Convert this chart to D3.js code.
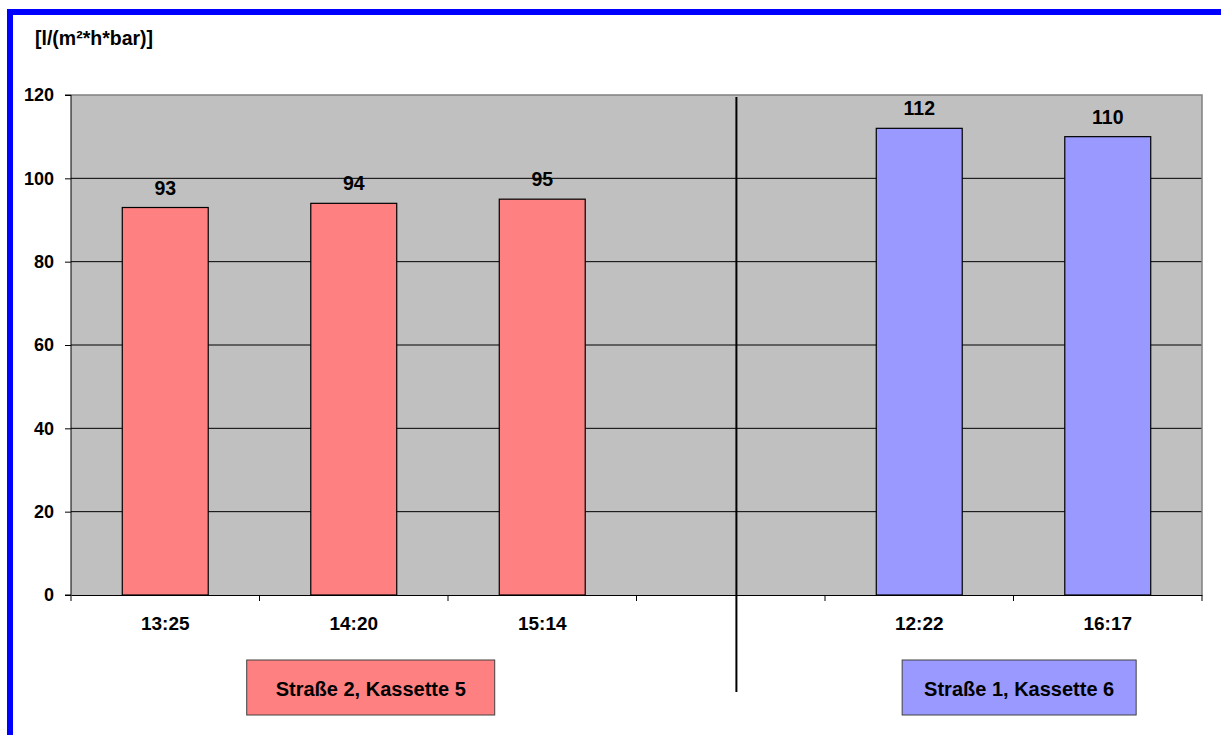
<!DOCTYPE html>
<html>
<head>
<meta charset="utf-8">
<script src="https://cdn.jsdelivr.net/npm/d3@7"></script>
<style>
  body { margin: 0; background: #fff; }
  text { font-family: "Liberation Sans", Arial, sans-serif; font-weight: bold; fill: #000; }
</style>
</head>
<body>
<div id="chart"></div>
<script>
var categories = ["13:25", "14:20", "15:14", "", "12:22", "16:17"];
var series1 = [93, 94, 95, null, null, null];     // Straße 2, Kassette 5
var series2 = [null, null, null, null, 112, 110]; // Straße 1, Kassette 6
var seriesNames = ["Straße 2, Kassette 5", "Straße 1, Kassette 6"];
var yTicks = [0, 20, 40, 60, 80, 100, 120];
var unitLabel = "[l/(m²*h*bar)]";

var W = 1221, H = 735;
var margin = {top: 95, right: 19, bottom: 140, left: 71},
    width = W - margin.left - margin.right,
    height = H - margin.top - margin.bottom;

var colors = ["#FF8080", "#9999FF"];

var root = d3.select("#chart").append("svg")
    .attr("width", W)
    .attr("height", H);

// blue frame
root.append("rect")
    .attr("x", 10).attr("y", 12)
    .attr("width", W + 20).attr("height", H + 20)
    .attr("fill", "none")
    .attr("stroke", "#0000FF")
    .attr("stroke-width", 6);

var svg = root.append("g")
    .attr("transform", "translate(" + margin.left + "," + margin.top + ")");

var x = d3.scaleBand()
    .domain(d3.range(categories.length))
    .range([0, width])
    .padding(0);

var y = d3.scaleLinear()
    .domain([0, 120])
    .range([height, 0]);

// band position helper: band index + fraction
function bx(c) {
    var i = Math.floor(c);
    return x(i) + x.bandwidth() * (c - i);
}

// plot background
svg.append("rect")
    .attr("width", width).attr("height", height)
    .attr("fill", "#C0C0C0");

// gridlines
svg.selectAll(".grid")
    .data(yTicks.filter(function(d) { return d > 0 && d < 120; }))
    .enter().append("line")
    .attr("x1", 0).attr("x2", width)
    .attr("y1", function(d) { return y(d); })
    .attr("y2", function(d) { return y(d); })
    .attr("stroke", "#000")
    .attr("stroke-width", 1);

// plot border (top/right)
svg.append("path")
    .attr("d", "M0," + y(120) + "H" + width + "V" + height)
    .attr("fill", "none")
    .attr("stroke", "#808080")
    .attr("stroke-width", 1.5);

var bw = x.bandwidth() * 0.456;
var allSeries = [series1, series2];

allSeries.forEach(function(vals, si) {
    var pts = vals.map(function(v, i) { return {i: i, v: v}; })
        .filter(function(d) { return d.v !== null; });

    svg.selectAll(".bar" + si)
        .data(pts)
        .enter().append("rect")
        .attr("x", function(d) { return x(d.i) + (x.bandwidth() - bw) / 2; })
        .attr("y", function(d) { return y(d.v); })
        .attr("width", bw)
        .attr("height", function(d) { return height - y(d.v); })
        .attr("fill", colors[si])
        .attr("stroke", "#000")
        .attr("stroke-width", 1.2);

    svg.selectAll(".lbl" + si)
        .data(pts)
        .enter().append("text")
        .attr("x", function(d) { return x(d.i) + x.bandwidth() / 2; })
        .attr("y", function(d) { return y(d.v) - 13; })
        .attr("text-anchor", "middle")
        .style("font-size", "19.5px")
        .text(function(d) { return d.v; });
});

// axes
var yAxis = d3.axisLeft(y)
    .tickValues(yTicks)
    .tickSize(6)
    .tickPadding(11);

var gy = svg.append("g").call(yAxis);
gy.selectAll("text").style("font-size", "18px").style("font-family", null);
gy.selectAll("line, path").attr("stroke", "#000");
gy.select(".domain").attr("d", "M-6,0H0V" + height + "H-6");

var xAxis = d3.axisBottom(x)
    .tickValues([])
    .tickSizeOuter(0);

var gx = svg.append("g")
    .attr("transform", "translate(0," + height + ")")
    .call(xAxis);
gx.select(".domain").attr("stroke", "#000");

// tick marks on band edges
gx.selectAll(".edge")
    .data(d3.range(categories.length + 1))
    .enter().append("line")
    .attr("x1", function(i) { return i < categories.length ? x(i) : width; })
    .attr("x2", function(i) { return i < categories.length ? x(i) : width; })
    .attr("y1", 0).attr("y2", 6)
    .attr("stroke", "#000");

gx.selectAll(".cat")
    .data(categories)
    .enter().append("text")
    .attr("x", function(d, i) { return x(i) + x.bandwidth() / 2; })
    .attr("y", 35)
    .attr("text-anchor", "middle")
    .style("font-size", "19px")
    .text(function(d) { return d; });

// divider between groups
var divX = bx(3.53);
svg.append("line")
    .attr("x1", divX).attr("x2", divX)
    .attr("y1", 2).attr("y2", height + 97)
    .attr("stroke", "#000")
    .attr("stroke-width", 2);

// group labels
var legendBoxes = [
    {name: seriesNames[0], c: 1.59, w: 248},
    {name: seriesNames[1], c: 5.03, w: 234}
];
var lg = svg.selectAll(".legend")
    .data(legendBoxes)
    .enter().append("g")
    .attr("transform", function(d) {
        return "translate(" + bx(d.c) + "," + (height + 65) + ")";
    });
lg.append("rect")
    .attr("x", function(d) { return -d.w / 2; })
    .attr("width", function(d) { return d.w; })
    .attr("height", 55)
    .attr("fill", function(d, i) { return colors[i]; })
    .attr("stroke", "#404040")
    .attr("stroke-width", 1);
lg.append("text")
    .attr("x", 0)
    .attr("y", 36)
    .attr("text-anchor", "middle")
    .style("font-size", "20px")
    .text(function(d) { return d.name; });

// unit label
root.append("text")
    .attr("x", 35).attr("y", 45)
    .style("font-size", "19.5px")
    .text(unitLabel);
</script>
</body>
</html>
